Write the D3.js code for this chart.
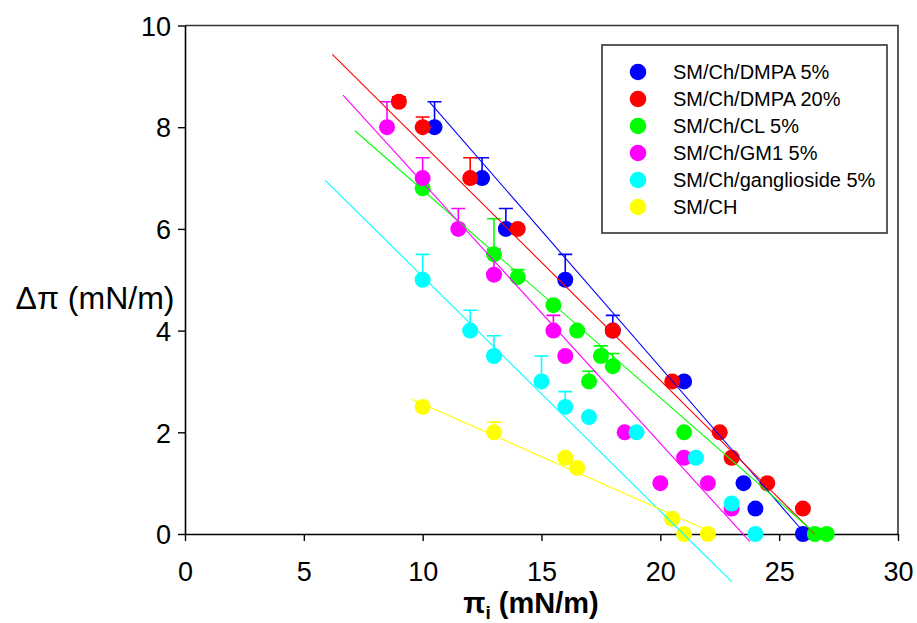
<!DOCTYPE html>
<html><head><meta charset="utf-8">
<script src="https://cdn.jsdelivr.net/npm/d3@7"></script>
<style>body{margin:0;background:#fff}svg{display:block}text{font-family:"Liberation Sans",Arial,sans-serif}</style>
</head><body><svg id="c" width="917" height="623"></svg>
<script>
// ---- data ----
const xTicks=[0,5,10,15,20,25,30];
const yTicks=[0,2,4,6,8,10];
const seriesNames=["SM/Ch/DMPA 5%","SM/Ch/DMPA 20%","SM/Ch/CL 5%","SM/Ch/GM1 5%","SM/Ch/ganglioside 5%","SM/CH"];
const seriesColors=["#0000ff","#ff0000","#00ff00","#ff00ff","#00ffff","#ffff00"];

const dmpa5X=[10.5,12.5,13.5,16,18,21,23.5,24,26];
const dmpa5Y=[8,7,6,5,4,3,1,0.5,0];
const dmpa5Err=[0.5,0.4,0.4,0.5,0.3,0,0,0,0];

const dmpa20X=[9,10,12,14,18,20.5,22.5,23,24.5,26];
const dmpa20Y=[8.5,8,7,6,4,3,2,1.5,1,0.5];
const dmpa20Err=[0.1,0.2,0.4,0,0,0,0,0,0,0];

const cl5X=[10,13,14,15.5,16.5,17.5,18,17,21,26.5,27];
const cl5Y=[6.8,5.5,5.05,4.5,4,3.5,3.3,3,2,0,0];
const cl5Err=[0,0.7,0.15,0,0,0.2,0.25,0.2,0,0,0];

const gm1X=[8.5,10,11.5,13,15.5,16,18.5,21,20,22,23];
const gm1Y=[8,7,6,5.1,4,3.5,2,1.5,1,1,0.5];
const gm1Err=[0.5,0.4,0.4,0.5,0.3,0,0,0,0,0,0];

const gangX=[10,12,13,15,16,17,19,21.5,23,24];
const gangY=[5,4,3.5,3,2.5,2.3,2,1.5,0.6,0];
const gangErr=[0.5,0.4,0.4,0.5,0.3,0,0,0,0,0];

const chX=[10,13,16,16.5,20.5,21,22];
const chY=[2.5,2,1.5,1.3,0.3,0,0];
const chErr=[0.1,0.2,0,0,0,0,0];

// regression line end points (data units): [x1,y1,x2,y2]
const fitDmpa5=[10.3,8.49,26.1,0];
const fitDmpa20=[6.2,9.43,26.5,0];
const fitCl5=[7.15,7.93,26.55,0];
const fitGm1=[6.65,8.63,23.77,-0.15];
const fitGang=[5.89,6.96,23.01,-0.94];
const fitCh=[9.55,2.65,21.96,0.08];

const seriesX=[dmpa5X,dmpa20X,cl5X,gm1X,gangX,chX];
const seriesY=[dmpa5Y,dmpa20Y,cl5Y,gm1Y,gangY,chY];
const seriesErr=[dmpa5Err,dmpa20Err,cl5Err,gm1Err,gangErr,chErr];
const seriesFit=[fitDmpa5,fitDmpa20,fitCl5,fitGm1,fitGang,fitCh];

const series=seriesNames.map((n,i)=>({name:n,color:seriesColors[i],
  pts:seriesX[i].map((x,j)=>({x:x,y:seriesY[i][j],e:seriesErr[i][j]})),fit:seriesFit[i]}));

// ---- chart ----
const svg=d3.select("#c");
const x=d3.scaleLinear().domain([0,30]).range([185,898]);
const y=d3.scaleLinear().domain([0,10]).range([534,25.5]);

// frame (top/right)
svg.append("path").attr("d",`M${x(0)},${y(10)}H${x(30)}V${y(0)}`)
  .attr("fill","none").attr("stroke","#333").attr("stroke-width",1.6);

const gx=svg.append("g").attr("transform",`translate(0,${y(0)})`)
  .call(d3.axisBottom(x).tickValues(xTicks).tickSize(7).tickSizeOuter(0).tickFormat(d3.format("d")));
const gy=svg.append("g").attr("transform",`translate(${x(0)},0)`)
  .call(d3.axisLeft(y).tickValues(yTicks).tickSize(7).tickSizeOuter(0).tickFormat(d3.format("d")));
[gx,gy].forEach(g=>{
  g.select(".domain").attr("stroke","#000").attr("stroke-width",1.6);
  g.selectAll(".tick line").attr("stroke","#000").attr("stroke-width",1.4);
  g.selectAll(".tick text").attr("fill","#000").style("font-size","27px")
   .style("font-family",'"Liberation Sans",Arial,sans-serif');
});
gx.selectAll(".tick text").attr("y",28).attr("dy","0.71em");
gy.selectAll(".tick text").attr("x",-14).attr("dy","0.36em");

// error bars
const eg=svg.append("g");
series.forEach(s=>{
  s.pts.filter(p=>p.e>0).forEach(p=>{
    const cx=x(p.x), y0=y(p.y), y1=y(p.y+p.e);
    eg.append("path").attr("d",`M${cx},${y0}V${y1}M${cx-7},${y1}H${cx+7}`)
      .attr("stroke",s.color).attr("stroke-width",1.6).attr("fill","none");
  });
});
// markers
series.forEach(s=>{
  svg.append("g").selectAll("circle").data(s.pts).join("circle")
    .attr("cx",d=>x(d.x)).attr("cy",d=>y(d.y)).attr("r",8).attr("fill",s.color);
});
// fit lines
series.forEach(s=>{
  svg.append("line").attr("x1",x(s.fit[0])).attr("y1",y(s.fit[1]))
    .attr("x2",x(s.fit[2])).attr("y2",y(s.fit[3]))
    .attr("stroke",s.color).attr("stroke-width",1.1);
});

// legend
const lg=svg.append("g");
lg.append("rect").attr("x",602).attr("y",45).attr("width",285).attr("height",188)
  .attr("fill","#fff").attr("stroke","#333").attr("stroke-width",1.6);
series.forEach((s,i)=>{
  const cy=72+27*i;
  lg.append("circle").attr("cx",638).attr("cy",cy).attr("r",8.3).attr("fill",s.color);
  lg.append("text").attr("x",673).attr("y",cy+7).style("font-size","20px").attr("fill","#000").text(s.name);
});

// axis titles
svg.append("text").attr("x",95).attr("y",309).attr("text-anchor","middle")
  .style("font-size","32px").attr("fill","#000").text("Δπ (mN/m)");
const xt=svg.append("text").attr("x",531).attr("y",613).attr("text-anchor","middle")
  .style("font-size","29px").style("font-weight","bold").attr("fill","#000");
xt.append("tspan").text("π");
xt.append("tspan").attr("dy",6).style("font-size","19px").text("i");
xt.append("tspan").attr("dy",-6).text(" (mN/m)");
</script></body></html>
